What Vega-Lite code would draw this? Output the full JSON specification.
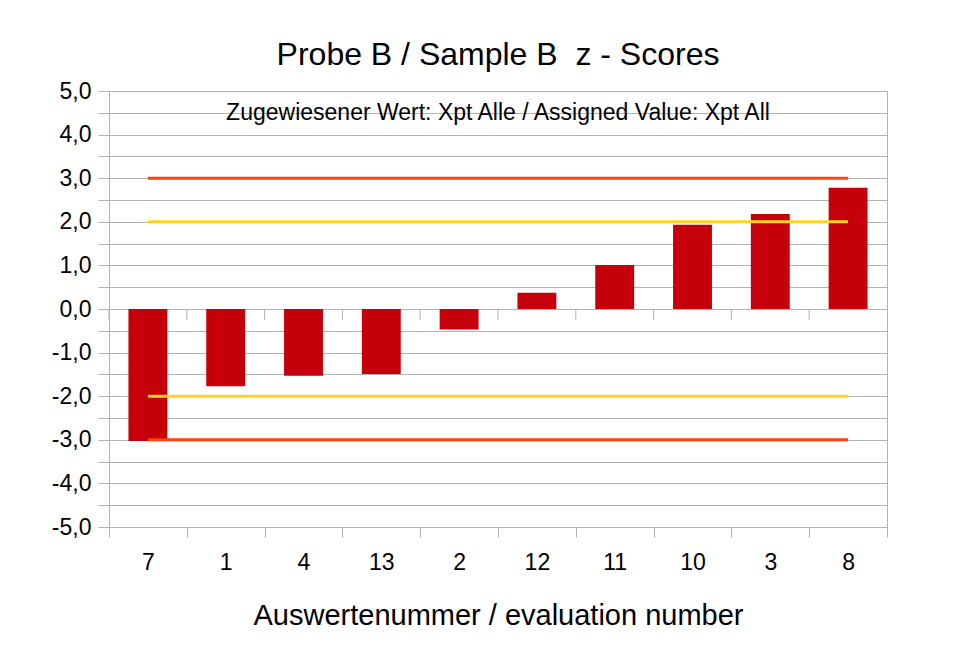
{
  "$schema": "https://vega.github.io/schema/vega-lite/v6.json",
  "width": 778,
  "height": 436,
  "autosize": {"type": "none"},
  "padding": {"left": 109, "top": 91, "right": 88, "bottom": 123},
  "background": "white",
  "title": {
    "text": "Probe B / Sample B\u00a0 z - Scores",
    "subtitle": "Zugewiesener Wert: Xpt Alle / Assigned Value: Xpt All",
    "anchor": "middle",
    "font": "Liberation Sans",
    "fontSize": 32,
    "fontWeight": "normal",
    "color": "black",
    "subtitleFont": "Liberation Sans",
    "subtitleFontSize": 23,
    "subtitleColor": "black",
    "offset": -46,
    "subtitlePadding": 30
  },
  "config": {
    "view": {"stroke": "#b3b3b3", "strokeWidth": 1},
    "axis": {
      "labelFont": "Liberation Sans",
      "titleFont": "Liberation Sans",
      "labelColor": "black",
      "titleColor": "black",
      "gridColor": "#b3b3b3",
      "domainColor": "#b3b3b3",
      "tickColor": "#b3b3b3",
      "titleFontWeight": "normal"
    }
  },
  "datasets": {
    "scores": [
      {"nr": "7", "z": -3.03},
      {"nr": "1", "z": -1.77},
      {"nr": "4", "z": -1.53},
      {"nr": "13", "z": -1.49},
      {"nr": "2", "z": -0.47},
      {"nr": "12", "z": 0.37},
      {"nr": "11", "z": 1.01},
      {"nr": "10", "z": 1.93},
      {"nr": "3", "z": 2.18},
      {"nr": "8", "z": 2.78}
    ],
    "limits": [
      {"nr": "7", "limit": 3, "grp": "+3"},
      {"nr": "8", "limit": 3, "grp": "+3"},
      {"nr": "7", "limit": 2, "grp": "+2"},
      {"nr": "8", "limit": 2, "grp": "+2"},
      {"nr": "7", "limit": -2, "grp": "-2"},
      {"nr": "8", "limit": -2, "grp": "-2"},
      {"nr": "7", "limit": -3, "grp": "-3"},
      {"nr": "8", "limit": -3, "grp": "-3"}
    ]
  },
  "encoding": {
    "x": {
      "field": "nr",
      "type": "nominal",
      "sort": null,
      "scale": {"domain": ["7", "1", "4", "13", "2", "12", "11", "10", "3", "8"], "paddingInner": 0, "paddingOuter": 0},
      "axis": {
        "orient": "bottom",
        "title": "Auswertenummer / evaluation number",
        "titleFontSize": 29,
        "titlePadding": 27,
        "labelFontSize": 23,
        "labelAngle": 0,
        "labelPadding": 14,
        "tickSize": 10,
        "tickBand": "extent",
        "grid": false,
        "domain": true
      }
    }
  },
  "layer": [
    {
      "data": {"name": "scores"},
      "mark": {"type": "bar", "color": "#c5000b", "width": {"band": 0.5}},
      "encoding": {
        "y": {
          "field": "z",
          "type": "quantitative",
          "scale": {"domain": [-5, 5], "nice": false, "zero": false},
          "axis": {
            "title": null,
            "values": [-5, -4.5, -4, -3.5, -3, -2.5, -2, -1.5, -1, -0.5, 0, 0.5, 1, 1.5, 2, 2.5, 3, 3.5, 4, 4.5, 5],
            "labelExpr": "datum.value % 1 == 0 ? replace(replace(format(datum.value, '.1f'), '.', ','), '\u2212', '-') : ''",
            "labelFontSize": 23,
            "labelPadding": 7,
            "tickSize": 11,
            "grid": true,
            "labelFlush": false
          }
        }
      }
    },
    {
      "data": {"name": "scores"},
      "mark": {"type": "rule", "color": "#b3b3b3", "strokeWidth": 1},
      "encoding": {
        "x": {"field": "nr", "type": "nominal", "bandPosition": 0},
        "y": {
          "datum": 0,
          "type": "quantitative",
          "axis": {
            "title": null,
            "values": [-5, -4.5, -4, -3.5, -3, -2.5, -2, -1.5, -1, -0.5, 0, 0.5, 1, 1.5, 2, 2.5, 3, 3.5, 4, 4.5, 5],
            "labelExpr": "datum.value % 1 == 0 ? replace(replace(format(datum.value, '.1f'), '.', ','), '\u2212', '-') : ''",
            "labelFontSize": 23,
            "labelPadding": 7,
            "tickSize": 11,
            "grid": true,
            "labelFlush": false
          }
        },
        "y2": {"datum": -0.25}
      }
    },
    {
      "data": {"name": "limits"},
      "mark": {"type": "line", "strokeWidth": 3},
      "encoding": {
        "y": {
          "field": "limit",
          "type": "quantitative",
          "axis": {
            "title": null,
            "values": [-5, -4.5, -4, -3.5, -3, -2.5, -2, -1.5, -1, -0.5, 0, 0.5, 1, 1.5, 2, 2.5, 3, 3.5, 4, 4.5, 5],
            "labelExpr": "datum.value % 1 == 0 ? replace(replace(format(datum.value, '.1f'), '.', ','), '\u2212', '-') : ''",
            "labelFontSize": 23,
            "labelPadding": 7,
            "tickSize": 11,
            "grid": true,
            "labelFlush": false
          }
        },
        "color": {
          "field": "grp",
          "type": "nominal",
          "scale": {"domain": ["+3", "+2", "-2", "-3"], "range": ["#ff420e", "#ffd320", "#ffd320", "#ff420e"]},
          "legend": null
        }
      }
    }
  ]
}
